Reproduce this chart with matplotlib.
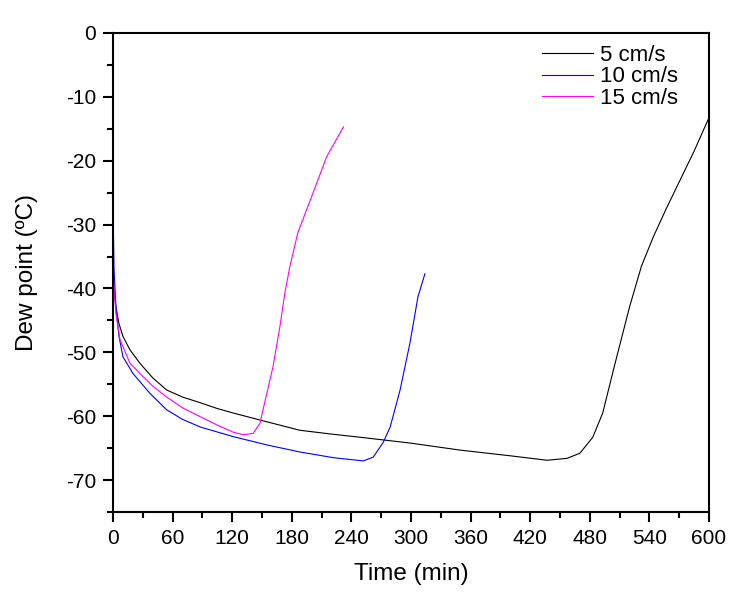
import matplotlib
matplotlib.use('Agg')
import matplotlib.pyplot as plt
from matplotlib.ticker import MultipleLocator

plt.rcParams['font.family'] = ['Liberation Sans', 'DejaVu Sans']
plt.rcParams['axes.unicode_minus'] = False

# 5 cm/s
t5 = [0, 1, 3, 6, 10, 17, 27, 40, 54, 70, 88, 105, 121, 148, 188, 220, 249, 299,
      349, 400, 437, 457, 470, 483, 493, 505, 520, 532, 544, 557, 571, 585, 599]
d5 = [-37, -40, -43, -45.5, -47.5, -49.6, -51.7, -54, -55.9, -57, -57.9, -58.8, -59.5,
      -60.6, -62.2, -62.8, -63.3, -64.2, -65.3, -66.2, -66.9, -66.6, -65.8, -63.3,
      -59.5, -52, -42.9, -36.5, -31.9, -27.5, -23, -18.5, -13.6]

# 10 cm/s
t10 = [0, 1, 3, 6, 10, 20, 37, 54, 70, 88, 121, 155, 188, 222, 252, 262, 272, 279,
       289, 299, 307, 314]
d10 = [-27, -37, -43, -47.5, -50.7, -53.3, -56.4, -59, -60.5, -61.7, -63.2, -64.5,
       -65.6, -66.5, -67.0, -66.4, -64.1, -61.7, -55.9, -48.5, -41.3, -37.7]

# 15 cm/s
t15 = [0, 1, 3, 7, 17, 27, 40, 54, 70, 88, 105, 121, 131, 141, 148, 151, 161, 168,
       173, 178, 186, 200, 215, 232]
d15 = [-37, -40, -44, -48, -51.7, -53.3, -55.3, -57, -58.7, -60.1, -61.4, -62.5,
       -62.9, -62.7, -61.1, -59, -52.3, -46, -40.7, -36.6, -31.3, -25.6, -19.4, -14.7]

fig = plt.figure(figsize=(7.46, 6.05), dpi=100)
ax = fig.add_axes([0.1515, 0.1537, 0.7989, 0.7918])

ax.plot(t5, d5, color='black', linewidth=0.8, label='5 cm/s')
ax.plot(t10, d10, color='blue', linewidth=0.8, label='10 cm/s')
ax.plot(t15, d15, color='magenta', linewidth=0.8, label='15 cm/s')

ax.set_xlim(0, 600)
ax.set_ylim(-75, 0)
ax.xaxis.set_major_locator(MultipleLocator(60))
ax.xaxis.set_minor_locator(MultipleLocator(30))
ax.yaxis.set_major_locator(MultipleLocator(10))
ax.yaxis.set_minor_locator(MultipleLocator(5))
ax.tick_params(which='major', direction='out', length=7, width=1.5, labelsize=15, pad=5)
ax.tick_params(which='minor', direction='out', length=4, width=1.5)
ax.tick_params(top=False, right=False)
for s in ax.spines.values():
    s.set_linewidth(1.5)

ax.set_xlabel('Time (min)', fontsize=17.5, labelpad=11)
ax.set_ylabel('Dew point (\u00baC)', fontsize=17.5, labelpad=20)

ax.legend(loc='upper left', bbox_to_anchor=(0.72, 0.975), frameon=False, fontsize=16,
          handlelength=2.3, handletextpad=0.3, labelspacing=0.02, borderaxespad=0,
          borderpad=0)

plt.savefig('out.png', dpi=100)
